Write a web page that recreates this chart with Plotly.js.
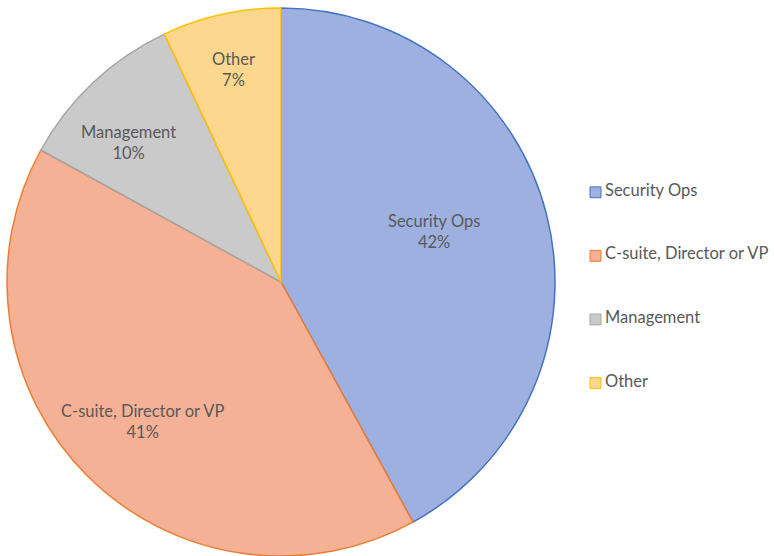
<!DOCTYPE html>
<html>
<head>
<meta charset="utf-8">
<script src="https://cdn.plot.ly/plotly-3.0.1.min.js"></script>
<style>html,body{margin:0;padding:0;background:#fff;}#chart{width:774px;height:556px;}</style>
</head>
<body>
<div id="chart"></div>
<script>
const categories = ["Security Ops", "C-suite, Director or VP", "Management", "Other"];
const values = [42, 41, 10, 7];
const fillColors = ["#9DB0DF", "#F5B196", "#CACACA", "#FED78E"];
const lineColors = ["#4472C4", "#ED7D31", "#A5A5A5", "#FFC000"];

const W = 774, H = 556;
const FONT = "Lato, 'Open Sans', sans-serif";
const TXT = "#595959";
const FS = 16.5;

// pie geometry (pixels)
const pieCx = 281, pieR = 274, pieTop = 8;
const pieCy = pieTop + pieR;

const trace = {
  type: "pie",
  labels: categories,
  values: values,
  sort: false,
  direction: "clockwise",
  rotation: 0,
  marker: { colors: fillColors, line: { color: lineColors, width: 1.5 } },
  textinfo: "none",
  hoverinfo: "label+percent",
  showlegend: false,
  domain: { x: [(pieCx - pieR) / W, (pieCx + pieR) / W], y: [0, 1] }
};

const shapes = [], annotations = [];

// data labels placed along each slice's bisector (style: radius fraction, angle tweak, pixel nudge)
const labelRadius = [0.59, 0.71, 0.76, 0.79];
const labelAngleShift = [-4, 0, -4, 0];
const labelNudgeY = [-4, 0, -4, -8];
const total = values.reduce((a, b) => a + b, 0);
let cum = 0;
values.forEach((v, i) => {
  const mid = (cum + v / 2) / total * 360 + labelAngleShift[i];
  cum += v;
  const a = mid * Math.PI / 180;
  const r = labelRadius[i] * pieR;
  const px = pieCx + r * Math.sin(a), py = pieCy - r * Math.cos(a) + labelNudgeY[i];
  annotations.push({
    xref: "paper", yref: "paper", x: px / W, y: 1 - py / H,
    xanchor: "center", yanchor: "middle", showarrow: false, align: "center",
    text: categories[i] + "<br>" + Math.round(v / total * 100) + "%",
    font: { family: FONT, size: FS, color: TXT }
  });
});

// legend drawn from the category/color arrays
const legTop = 184.5, legStep = 64.5;
categories.forEach((c, i) => {
  const yc = legTop + i * legStep;
  shapes.push({
    type: "rect", xref: "paper", yref: "paper",
    x0: 590 / W, x1: 601 / W, y0: 1 - (yc + 8) / H, y1: 1 - (yc - 3) / H,
    fillcolor: fillColors[i], line: { color: lineColors[i], width: 1 }
  });
  annotations.push({
    xref: "paper", yref: "paper", x: 603 / W, y: 1 - yc / H,
    xanchor: "left", yanchor: "middle", showarrow: false, text: c,
    font: { family: FONT, size: FS, color: TXT }
  });
});

Plotly.newPlot("chart", [trace], {
  width: W, height: H,
  margin: { l: 0, r: 0, t: pieTop, b: 0 },
  paper_bgcolor: "#ffffff",
  showlegend: false,
  shapes: shapes,
  annotations: annotations
}, { displayModeBar: false, staticPlot: true });
</script>
</body>
</html>
